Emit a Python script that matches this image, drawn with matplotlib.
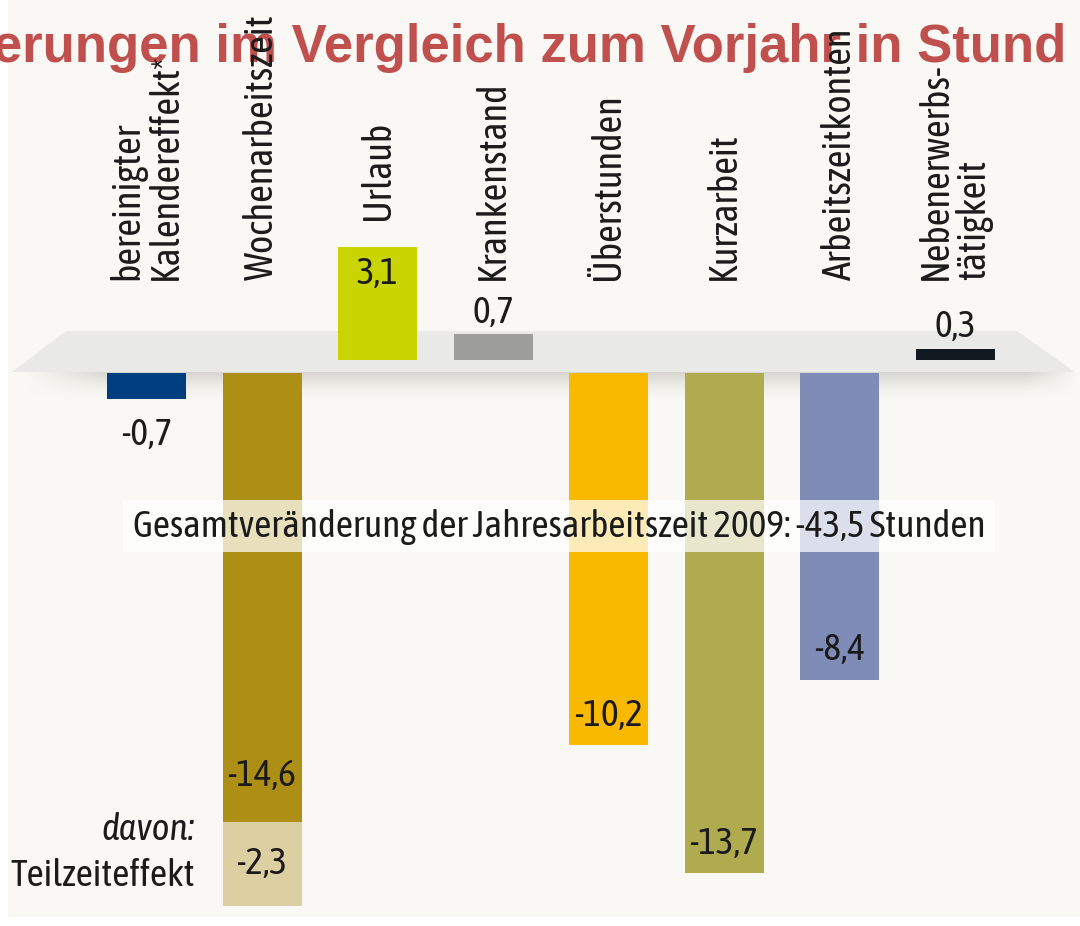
import numpy as np
import matplotlib.pyplot as plt
from matplotlib.patches import Polygon, Rectangle
from matplotlib.transforms import Bbox, TransformedBbox

# data
categories = ["bereinigter\nKalendereffekt*", "Wochenarbeitszeit", "Urlaub",
              "Krankenstand", "Überstunden", "Kurzarbeit",
              "Arbeitszeitkonten", "Nebenerwerbs-\ntätigkeit"]
values = [-0.7, -14.6, 3.1, 0.7, -10.2, -13.7, -8.4, 0.3]
value_labels = ["-0,7", "-14,6", "3,1", "0,7", "-10,2", "-13,7", "-8,4", "0,3"]
teilzeit = -2.3          # part of Wochenarbeitszeit
teilzeit_label = "-2,3"
total_text = "Gesamtveränderung der Jahresarbeitszeit 2009: -43,5 Stunden"
title = "Veränderungen im Vergleich zum Vorjahr in Stunden"

colors = ["#003f7f", "#ad8f15", "#c9d400", "#9d9d9c",
          "#f9b900", "#afab4e", "#7f8cb8", "#111a20"]
teilzeit_color = "#dccfa1"

plt.rcParams['font.family'] = ['Asap Condensed', 'Archivo Narrow', 'Liberation Sans', 'DejaVu Sans']
txt = "#1b1b1b"

W, H = 1080, 926
fig = plt.figure(figsize=(W / 100, H / 100), dpi=100, facecolor="white")
fig.patches.append(Rectangle((8 / W, 9 / H), 1, 1, transform=fig.transFigure,
                             facecolor="#f9f8f4", edgecolor="none", zorder=-10))
ax = fig.add_axes([0, 0, 1, 1])
ax.set_facecolor("none")
ax.axis("off")

# pixel -> data mapping (bar spacing 115.5 px, 36.5 px per hour)
x0, dx, y0, dy = 146.5, 115.5, 373, 36.5


def px(x, y):
    return (x - x0) / dx, (y0 - y) / dy


ax.set_xlim(px(0, 0)[0], px(W, 0)[0])
ax.set_ylim(px(0, H)[1], px(0, 0)[1])

# font size so that the total line is about 850 px wide
probe = fig.text(0, 0, total_text, fontsize=20)
wpx = probe.get_window_extent(fig.canvas.get_renderer()).width
probe.remove()
fs = 20 * 850 / wpx

# platform
plat = [px(66, 331), px(1017, 331), px(1075, 372), px(12, 372)]
ax.add_patch(Polygon(plat, closed=True, facecolor="#e9eae8", edgecolor="none", zorder=1))

# shadow under the platform
sx = np.linspace(0, 1, 400)
sy = np.linspace(0, 1, 30)
hor = np.clip(sx / 0.08, 0, 1) * np.clip((1 - sx) / 0.05, 0, 1)
ver = (1 - sy) ** 1.6
rgba = np.zeros((30, 400, 4))
rgba[..., :3] = (0.72, 0.72, 0.68)
rgba[..., 3] = np.outer(ver, hor) * 0.55
l, t = px(25, 372)
r, b = px(1078, 400)
ax.imshow(rgba, extent=(l, r, b, t), aspect="auto", zorder=2, interpolation="bilinear")

# bars
bw = 79 / dx
lift = 13 / dy
for i, v in enumerate(values):
    if v > 0:
        ax.bar(i, v, width=bw, bottom=lift, color=colors[i], zorder=3)
    elif i == 1:
        ax.bar(i, v - teilzeit, width=bw, color=colors[i], zorder=3)
        ax.bar(i, teilzeit, width=bw, bottom=v - teilzeit, color=teilzeit_color, zorder=3)
    else:
        ax.bar(i, v, width=bw, color=colors[i], zorder=3)

# value labels
for i, v in enumerate(values):
    if i == 0:
        ax.text(i, v - 0.5, value_labels[i], ha="center", va="top", fontsize=fs, color=txt, zorder=5)
    elif i == 1:
        ax.text(i, v - teilzeit + 1.25, value_labels[i], ha="center", va="center",
                fontsize=fs, color=txt, zorder=5)
        ax.text(i, v - teilzeit / 2, teilzeit_label, ha="center", va="center",
                fontsize=fs, color=txt, zorder=5)
    elif v < 0:
        ax.text(i, v + 0.8, value_labels[i], ha="center", va="center", fontsize=fs, color=txt, zorder=5)
    elif v > 1:
        ax.text(i, v + lift - 0.75, value_labels[i], ha="center", va="center", fontsize=fs, color=txt, zorder=5)
    else:
        ax.text(i, v + lift + 0.6, value_labels[i], ha="center", va="center", fontsize=fs, color=txt, zorder=5)

# davon: Teilzeiteffekt
lx = px(195, 0)[0]
ax.text(lx, px(0, 830)[1], "davon:", ha="right", va="center", fontsize=fs,
        style="italic", color=txt, zorder=5)
ax.text(lx, px(0, 876)[1], "Teilzeiteffekt", ha="right", va="center", fontsize=fs,
        color=txt, zorder=5)

# total box
bl = px(123, 552)
tr = px(995, 500)
ax.add_patch(Rectangle(bl, tr[0] - bl[0], tr[1] - bl[1], facecolor="white",
                       alpha=0.72, edgecolor="none", zorder=6))
ax.text((bl[0] + tr[0]) / 2, px(0, 527)[1], total_text, ha="center", va="center",
        fontsize=fs, color=txt, zorder=7)

# title, cut off on both sides like the original
tx, ty = px(-183, 62)
ttl = ax.text(tx, ty, title, ha="left", va="baseline", fontsize=38, fontweight="bold",
              color="#c0504d", family="Liberation Sans", zorder=8, clip_on=True)
ttl.set_clip_path(None)
ttl.set_clip_box(TransformedBbox(Bbox([[0, 0], [1066 / W, 1]]), fig.transFigure))

# category labels
base = px(0, 280)[1]
for i, (c, v) in enumerate(zip(categories, values)):
    y = max(base, v + lift + 0.74) if v > 0 else base
    ax.text(i, y, c, rotation=90, ha="center", va="bottom", multialignment="left",
            fontsize=fs * 1.03, color=txt, linespacing=1.0, zorder=9)

fig.savefig("out.png", dpi=100, facecolor=fig.get_facecolor())
